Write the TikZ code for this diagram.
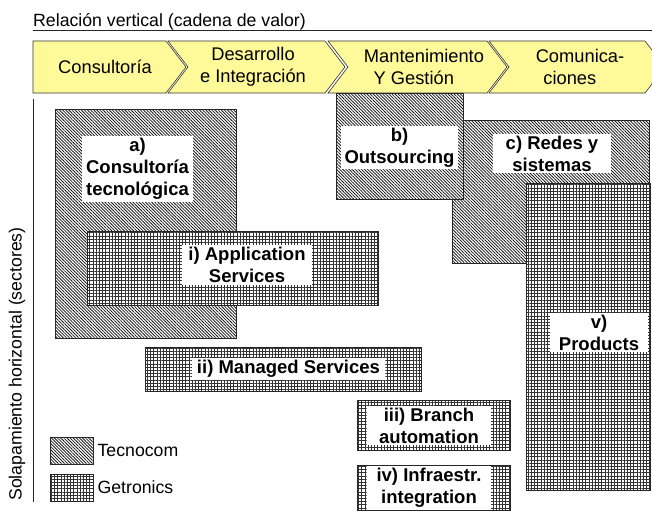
\documentclass[tikz,border=0pt]{standalone}
\usepackage{fontspec}
\setmainfont{Liberation Sans}
\usetikzlibrary{patterns.meta,positioning}

\tikzset{
	tecno/.style={draw=black!85,line width=0.8pt,preaction={fill=white},
		pattern={Lines[angle=-45,distance=2.2pt,line width=0.8pt]},pattern color=black!90},
	getro/.style={draw=black!85,line width=0.8pt,preaction={fill=white},
		pattern={Hatch[angle=0,distance=3.2pt,line width=0.3pt]},pattern color=black!80},
	lbl/.style={fill=white,inner sep=2pt,align=center,
		font=\bfseries\fontsize{18.5}{22}\selectfont},
	fase/.style={draw=black!80,fill=yellow!40,line width=0.6pt},
	fasetxt/.style={align=center,inner sep=0pt,font=\fontsize{18.3}{22}\selectfont},
	txt/.style={inner sep=0pt,font=\fontsize{17.7}{21}\selectfont}
}

\begin{document}
\begin{tikzpicture}[x=1pt,y=-1pt]
	\useasboundingbox (0,0) rectangle (652,511);

	% cadena de valor
	\node[txt,anchor=base west] (titulo) at (33,27) {Relación vertical (cadena de valor)};
	\draw[line width=0.8pt,black!85] (33,30) -- (652,30);

	\draw[fase] (33,41) -- (166,41) -- (186,67) -- (166,93) -- (33,93) -- cycle;
	\node[fasetxt] (f1) at (105,67) {Consultoría};

	\draw[fase] (168,41) -- (325,41) -- (345,67) -- (325,93) -- (168,93) -- (188,67) -- cycle;
	\node[fasetxt] (f2) at (253,67) {Desarrollo\\e Integración};

	\draw[fase] (328,41) -- (487,41) -- (507,67) -- (487,93) -- (328,93) -- (348,67) -- cycle;
	\node[fasetxt] (f3) at (424,67) {Mantenimiento\\Y Gestión\phantom{nn}};

	\draw[fase] (489,41) -- (645,41) -- (665,67) -- (645,93) -- (489,93) -- (509,67) -- cycle;
	\node[fasetxt] (f4) at (580,67) {Comunica-\\ciones\phantom{nn}};

	% eje de sectores
	\draw[line width=0.8pt,black!85] (33,99) -- (33,502);
	\node[txt,rotate=90] (eje) at (17,364) {Solapamiento horizontal (sectores)};

	% sectores
	\draw[tecno] (55,109) rectangle (236,338);
	\node[lbl,minimum width=111pt] (a) at (137.5,169) {a)\\Consultoría\\tecnológica};

	\draw[getro] (87,231) rectangle (378,305);
	\node[lbl,minimum width=130pt] (i) at (247,265) {i) Application\\Services};

	\draw[tecno] (452,120) rectangle (649,263);
	\node[lbl,minimum width=118pt] (c) at (552,153.5) {c) Redes y\\sistemas};

	\draw[tecno] (336,93) rectangle (463,199);
	\node[lbl,minimum width=117pt] (b) at (399.5,147.5) {b)\\Outsourcing};

	\draw[getro] (526,183) rectangle (650,490);
	\node[lbl,minimum width=98pt] (v) at (599,332.5) {v)\\Products};

	\draw[getro] (145,347) rectangle (421,391);
	\node[lbl,minimum width=193pt] (ii) at (288.5,369) {ii) Managed Services};

	\draw[getro] (357,400) rectangle (510,450);
	\node[lbl,minimum width=124pt] (iii) at (429,425.5) {iii) Branch\\automation};

	\draw[getro] (357,465) rectangle (510,510);
	\node[lbl,minimum width=124pt] (iv) at (429,488) {iv) Infraestr.\\integration};

	% leyenda
	\node[tecno,minimum width=43pt,minimum height=27pt] (legT) at (71.5,450.5) {};
	\node[txt,right=4pt of legT] (tecnocom) {Tecnocom};
	\node[getro,minimum width=43pt,minimum height=27pt] (legG) at (71.5,487.5) {};
	\node[txt,right=4pt of legG] (getronics) {Getronics};
\end{tikzpicture}
\end{document}
